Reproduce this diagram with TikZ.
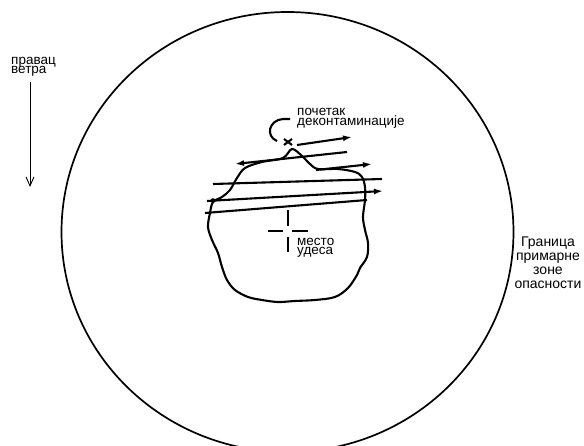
\documentclass[tikz,border=0pt]{standalone}
\usepackage{fontspec}
\setmainfont{Liberation Sans}
\usetikzlibrary{arrows.meta,calc}
\newcommand\tightlns{\lineskiplimit=-20pt\relax}
\begin{document}
\begin{tikzpicture}[x=1pt,y=-1pt,
  lbl/.style={inner sep=0pt, align=left, anchor=base west,
    font=\fontsize{13.5}{9.8}\selectfont\tightlns},
  lblc/.style={inner sep=0pt, align=center, anchor=base,
    font=\fontsize{14}{14}\selectfont\tightlns},
  heavy/.style={line width=2.1pt},
  tipr/.style={-{Latex[length=9pt,width=6pt]}},
]
\useasboundingbox (0,0) rectangle (584,446);
\begin{scope}
  \clip (0,0) rectangle (584,446);
  \draw[line width=1.7pt] (287.5,232) ellipse [x radius=226, y radius=220];
\end{scope}

% contaminated area
\draw[heavy] plot[smooth cycle, tension=0.55] coordinates {
  (283,158) (292,149) (302,156) (310,164) (318,169) (338,169) (355,172)
  (362,177) (365,187) (365,200) (363,217) (365,230) (368,243) (367,257)
  (360,268) (357,275) (348,288) (335,297) (315,300) (295,301) (278,302)
  (262,300) (248,297) (235,290) (227,280) (222,267) (218,253) (212,240)
  (208,227) (210,213) (213,202) (222,197) (230,190) (237,178) (245,168)
  (262,162)};

% decontamination passes
\coordinate (a1) at (297,145); \coordinate (b1) at (352,137);
\coordinate (a2) at (347,152); \coordinate (b2) at (235,164);
\coordinate (a3) at (316,170); \coordinate (b3) at (372,164);
\coordinate (a4) at (213,184); \coordinate (b4) at (382,179);
\coordinate (a5) at (207,201); \coordinate (b5) at (383,191);
\coordinate (a6) at (205,213); \coordinate (b6) at (367,200);
\draw[heavy,tipr] (a1) -- (b1);
\draw[heavy,tipr] (a2) -- (b2);
\draw[heavy,tipr] (a3) -- (b3);
\draw[heavy] (a4) -- (b4);
\draw[heavy,tipr] (a5) -- (b5);
\draw[heavy] (a6) -- (b6);
\fill (213,200.5) circle (2.3pt);

% start mark
\coordinate (sx) at (288,142);
\draw[heavy] ($(sx)+(-4,-3)$) -- ($(sx)+(4,3)$);
\draw[heavy] ($(sx)+(-4,3)$) -- ($(sx)+(4,-3)$);
\coordinate (h1) at (290,119);
\coordinate (h2) at (277,141);
\draw[heavy] (h1) -- (283,119) .. controls (269,120) and (265,136) .. (h2);

% accident site
\coordinate (ac) at (288,231);
\draw[heavy] (268,231) -- (283,231);
\draw[heavy] (292,231) -- (308,231);
\draw[heavy] (288,210) -- (288,226);
\draw[heavy] (288,237) -- (288,252);

% wind direction
\coordinate (w1) at (30,82);
\coordinate (w2) at (30,187);
\draw[line width=0.9pt,-{Straight Barb[length=9pt,width=8pt]}] (w1) -- (w2);

% labels (anchor = baseline of last line)
\node[lbl] (wind) at (11,74) {правац\\ветра};
\node[lbl] (start) at (297,125.5) {почетак\\деконтаминације};
\node[lbl] (site) at (297,255) {место\\удеса};
\node[lblc] (border) at (548,289) {Граница\\примарне\\зоне\\опасности};
\end{tikzpicture}
\end{document}
